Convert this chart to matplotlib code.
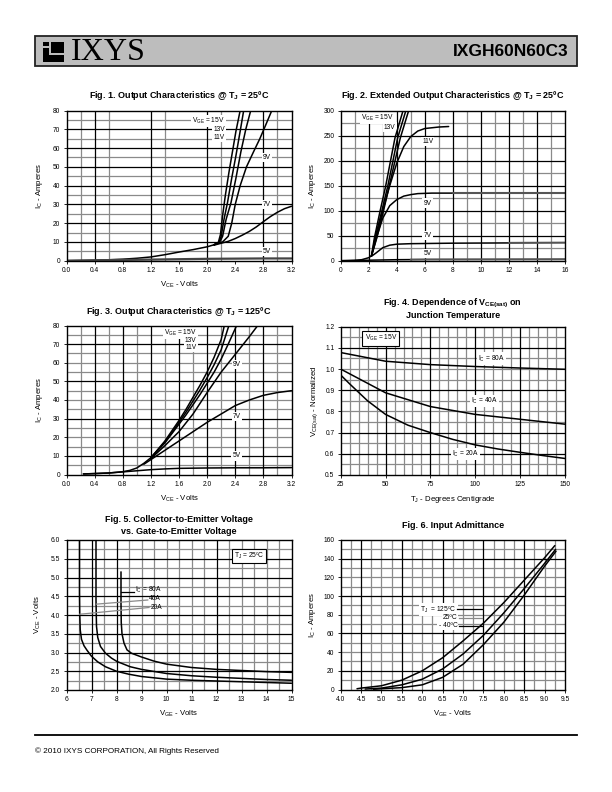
import matplotlib
matplotlib.use('Agg')
import matplotlib.pyplot as plt
from matplotlib.patches import Rectangle
from matplotlib.lines import Line2D

plt.rcParams['font.family'] = ['Liberation Sans', 'DejaVu Sans']
plt.rcParams['mathtext.fontset'] = 'custom'
plt.rcParams['mathtext.rm'] = 'Liberation Sans'
plt.rcParams['mathtext.it'] = 'Liberation Sans:italic'
plt.rcParams['mathtext.bf'] = 'Liberation Sans:bold'

# ---------------- DATA ----------------
# Fig 1: Output characteristics @ Tj = 25C
f1_low_vce = [0.0, 0.2, 0.4, 0.6, 0.8, 1.0, 1.2, 1.4, 1.6, 1.8, 2.0, 2.1]
f1_low_ic = [0.0, 0.1, 0.25, 0.5, 0.8, 1.3, 2.0, 3.2, 4.6, 5.9, 7.4, 8.5]
f1_15v_vce = [2.1, 2.16, 2.19, 2.22, 2.26, 2.31, 2.36, 2.41, 2.47]
f1_15v_ic = [8.5, 9.8, 14, 24, 35, 47, 58, 69, 80]
f1_13v_vce = [2.1, 2.17, 2.2, 2.24, 2.29, 2.35, 2.41, 2.47, 2.52]
f1_13v_ic = [8.5, 9.9, 13, 22, 31, 44, 56, 69, 80]
f1_11v_vce = [2.1, 2.18, 2.22, 2.27, 2.34, 2.41, 2.48, 2.55, 2.62]
f1_11v_ic = [8.5, 10, 13, 22, 31, 44, 58, 70, 80]
f1_9v_vce = [2.1, 2.22, 2.3, 2.35, 2.4, 2.47, 2.56, 2.66, 2.75, 2.83, 2.92]
f1_9v_ic = [8.5, 10, 13, 20, 30, 40, 50, 58, 65, 72, 80]
f1_7v_vce = [2.1, 2.2, 2.3, 2.4, 2.5, 2.6, 2.7, 2.8, 2.9, 3.0, 3.1, 3.2]
f1_7v_ic = [8.3, 9.3, 10.3, 11.8, 13.6, 15.6, 18.0, 20.8, 23.5, 25.8, 27.7, 29.0]
f1_5v_vce = [0.0, 0.4, 0.8, 1.2, 1.6, 2.0, 2.4, 2.8, 3.2]
f1_5v_ic = [0.0, 0.2, 0.4, 0.6, 0.8, 1.0, 1.1, 1.2, 1.2]

# Fig 2: Extended output characteristics @ Tj = 25C
f2_low_vce = [0.0, 0.5, 1.0, 1.5, 2.0, 2.2]
f2_low_ic = [0.0, 0.2, 0.6, 2.0, 6.0, 10.0]
f2_15v_vce = [2.2, 2.4, 2.8, 3.2, 3.87, 4.45]
f2_15v_ic = [10, 45, 98, 148, 245, 300]
f2_13v_vce = [2.2, 2.45, 2.92, 3.35, 4.06, 4.65]
f2_13v_ic = [10, 45, 98, 148, 245, 300]
f2_12v_vce = [2.2, 2.57, 3.04, 3.45, 4.25, 4.85]
f2_12v_ic = [10, 45, 98, 148, 245, 300]
f2_11v_vce = [2.2, 2.6, 3.0, 3.5, 4.0, 4.5, 5.0, 5.5, 6.0, 7.0, 7.7]
f2_11v_ic = [10, 55, 100, 150, 195, 228, 248, 259, 264, 267, 268]
f2_9v_vce = [2.2, 2.6, 3.0, 3.5, 4.0, 4.5, 5.0, 5.5, 6.5, 8.0]
f2_9v_ic = [10, 50, 85, 110, 122, 129, 132, 134, 135, 135]
f2_9v_tail_vce = [8.0, 16.0]
f2_9v_tail_ic = [135, 135]
f2_7v_vce = [2.2, 2.5, 3.0, 3.5, 4.0, 5.0, 8.0, 12.0]
f2_7v_ic = [9, 15, 26, 31, 33, 34, 35, 35.5]
f2_7v_tail_vce = [12.0, 16.0]
f2_7v_tail_ic = [35.5, 36]
f2_5v_vce = [0.0, 2.0, 4.0, 5.0]
f2_5v_ic = [0.0, 1.0, 2.0, 2.2]
f2_5v_tail_vce = [5.0, 6.0, 16.0]
f2_5v_tail_ic = [2.2, 2.5, 3.0]

# Fig 3: Output characteristics @ Tj = 125C
f3_low_vce = [0.24, 0.4, 0.6, 0.8, 0.9, 1.0, 1.1, 1.2]
f3_low_ic = [0.3, 0.5, 0.8, 1.5, 2.2, 3.5, 6.0, 9.0]
f3_15v_vce = [1.2, 1.3, 1.4, 1.5, 1.6, 1.7, 1.8, 1.9, 2.0, 2.1, 2.2, 2.245]
f3_15v_ic = [9.0, 13.5, 18, 23.5, 29, 35, 41.5, 48, 55, 63, 72.5, 80]
f3_13v_vce = [1.2, 1.3, 1.4, 1.5, 1.6, 1.7, 1.8, 1.9, 2.0, 2.1, 2.2, 2.31]
f3_13v_ic = [9.0, 13.2, 17.5, 22.5, 28, 33.5, 39.5, 45.5, 52, 59, 67, 80]
f3_11v_vce = [1.2, 1.3, 1.4, 1.5, 1.6, 1.7, 1.8, 1.9, 2.0, 2.1, 2.2, 2.3, 2.42]
f3_11v_ic = [9.0, 13, 17, 22, 27, 32, 37.5, 43, 49, 55, 62, 70, 80]
f3_9v_vce = [1.2, 1.4, 1.6, 1.8, 2.0, 2.2, 2.4, 2.6, 2.72]
f3_9v_ic = [8.5, 15.5, 23, 32.5, 44, 55, 64.5, 74, 80]
f3_7v_vce = [1.1, 1.2, 1.4, 1.6, 1.8, 2.0, 2.2, 2.4, 2.6, 2.8, 3.0, 3.2]
f3_7v_ic = [5.5, 8.0, 13, 18, 23, 28, 32.5, 37, 40, 42.5, 44, 45]
f3_5v_vce = [0.24, 0.4, 0.6, 0.8, 1.0, 1.2, 1.4, 1.6, 2.0, 2.4, 2.8, 3.2]
f3_5v_ic = [0.3, 0.5, 0.8, 1.4, 2.0, 2.6, 3.0, 3.3, 3.5, 3.6, 3.6, 3.7]

# Fig 4: VCE(sat) normalized vs junction temperature
f4_tj = [25, 50, 75, 100, 125, 150]
f4_80a = [1.078, 1.037, 1.021, 1.012, 1.005, 0.999]
f4_40a = [1.0, 0.888, 0.823, 0.786, 0.763, 0.740]
f4_20a_tj = [25, 30, 40, 50, 62.5, 75, 87.5, 100, 112.5, 125, 137.5, 150]
f4_20a = [0.972, 0.93, 0.85, 0.786, 0.735, 0.70, 0.668, 0.642, 0.623, 0.607, 0.592, 0.578]

# Fig 5: VCE vs VGE
f5_20a_vge = [6.52, 6.52, 6.53, 6.55, 6.6, 6.7, 6.82, 7.0, 7.25, 7.56, 8.0, 8.5, 9.0, 10, 11, 12, 13, 14, 15]
f5_20a_vce = [6.0, 4.6, 4.0, 3.6, 3.35, 3.18, 3.06, 2.9, 2.75, 2.62, 2.5, 2.42, 2.36, 2.29, 2.26, 2.24, 2.22, 2.2, 2.18]
f5_40a_vge = [7.18, 7.18, 7.2, 7.25, 7.36, 7.56, 7.8, 8.02, 8.55, 9.0, 10, 11, 12, 13, 14, 15]
f5_40a_vce = [6.0, 4.4, 3.7, 3.4, 3.16, 2.98, 2.85, 2.76, 2.62, 2.55, 2.44, 2.38, 2.34, 2.31, 2.28, 2.26]
f5_80a_vge = [8.18, 8.18, 8.19, 8.22, 8.3, 8.42, 8.6, 8.8, 9.0, 9.5, 10, 11, 12, 13, 14, 15]
f5_80a_vce = [5.15, 4.3, 3.8, 3.5, 3.25, 3.07, 2.98, 2.93, 2.88, 2.77, 2.69, 2.6, 2.55, 2.52, 2.49, 2.47]

# Fig 6: Input admittance
f6_125_vge = [4.4, 4.5, 5.0, 5.5, 6.0, 6.5, 7.0, 7.5, 8.0, 8.5, 9.0, 9.25]
f6_125_ic = [0.8, 1.5, 4, 10, 20, 34, 52, 71, 93, 117, 141, 154]
f6_25_vge = [4.6, 5.0, 5.5, 6.0, 6.5, 7.0, 7.5, 8.0, 8.5, 9.0, 9.27]
f6_25_ic = [0.5, 1.5, 5, 11, 22, 38, 58, 82, 108, 135, 150]
f6_m40_vge = [4.8, 5.5, 6.0, 6.5, 7.0, 7.5, 8.0, 8.5, 9.0, 9.28]
f6_m40_ic = [0.3, 2, 5, 13, 27, 48, 72, 101, 132, 148]

# ---------------- FIGURE ----------------
W, H = 612, 792
fig = plt.figure(figsize=(W / 100, H / 100), dpi=100)

GRAY = '#8a8a8a'
TICK_FS = 4.8
LAB_FS = 5.6
TITLE_FS = 6.5
TITLE_FAM = ['Liberation Sans Narrow', 'Liberation Sans', 'DejaVu Sans']


def px_box(x0, y0, x1, y1):
    return [x0 / W, 1 - y1 / H, (x1 - x0) / W, (y1 - y0) / H]


def ftext(x, y, s, **kw):
    fig.text(x / W, 1 - y / H, s, **kw)


def title(x, y, s):
    ftext(x, y, s, fontsize=TITLE_FS, fontweight='bold', family=TITLE_FAM,
          ha='center', va='center')


def make_ax(rect, xlim, ylim, xticks, yticks, xfmt, yfmt, vb, vg, hb, hg):
    ax = fig.add_axes(px_box(*rect))
    ax.set_xlim(*xlim)
    ax.set_ylim(*ylim)
    ax.set_xticks(xticks)
    ax.set_yticks(yticks)
    ax.set_xticklabels([xfmt.format(v) for v in xticks])
    ax.set_yticklabels([yfmt.format(v) for v in yticks])
    ax.tick_params(labelsize=TICK_FS, length=2, width=0.6, pad=2.5, direction='out')
    for v in vg:
        ax.axvline(v, color=GRAY, lw=0.9, zorder=0.5)
    for v in hg:
        ax.axhline(v, color=GRAY, lw=0.9, zorder=0.5)
    for v in vb:
        ax.axvline(v, color='black', lw=0.9, zorder=0.6)
    for v in hb:
        ax.axhline(v, color='black', lw=0.9, zorder=0.6)
    for sp in ax.spines.values():
        sp.set_linewidth(1.0)
        sp.set_zorder(6)
    return ax


def curve(ax, x, y, color='black', lw=1.1):
    ax.plot(x, y, color=color, lw=lw, zorder=5, solid_capstyle='round')


def lab(ax, x, y, s, ha='center', fs=4.8, box=True):
    kw = dict(fontsize=fs, ha=ha, va='center', zorder=3)
    if box:
        kw['bbox'] = dict(fc='white', ec='none', pad=0.8)
    ax.text(x, y, s, **kw)


L, R = 66.5, 291.5
L2, R2 = 340.7, 565.0

# ---- Fig 1 ----
ax1 = make_ax((L, 110.5, R, 260.7), (0, 3.2), (0, 80),
              [0.0, 0.4, 0.8, 1.2, 1.6, 2.0, 2.4, 2.8, 3.2], list(range(0, 81, 10)),
              '{:.1f}', '{:d}',
              vb=[0.4, 1.2, 2.0, 2.8], vg=[0.2, 0.6, 1.4, 2.2, 3.0],
              hb=list(range(10, 80, 10)), hg=list(range(5, 80, 10)))
curve(ax1, f1_low_vce, f1_low_ic)
for xs, ys in [(f1_15v_vce, f1_15v_ic), (f1_13v_vce, f1_13v_ic), (f1_11v_vce, f1_11v_ic),
               (f1_9v_vce, f1_9v_ic), (f1_7v_vce, f1_7v_ic)]:
    curve(ax1, xs, ys)
curve(ax1, f1_5v_vce, f1_5v_ic, color='#444444', lw=1.6)
lab(ax1, 2.25, 74.5, r'V$_{\rm GE}$ = 15V', ha='right')
lab(ax1, 2.25, 70, '13V', ha='right')
lab(ax1, 2.25, 65.5, '11V', ha='right')
lab(ax1, 2.85, 55, '9V')
lab(ax1, 2.85, 30, '7V')
lab(ax1, 2.85, 5, '5V')
ax1.set_xlabel(r'V$_{\rm CE}$ - Volts', fontsize=LAB_FS, labelpad=4)
ax1.set_ylabel(r'I$_{\rm C}$ - Amperes', fontsize=LAB_FS, labelpad=6)
title((L + R) / 2, 96, 'Fig. 1. Output Characteristics @ T$_{\\mathbf{J}}$ = 25ºC')

# ---- Fig 2 ----
ax2 = make_ax((L2, 110.5, R2, 260.7), (0, 16), (0, 300),
              list(range(0, 17, 2)), list(range(0, 301, 50)),
              '{:d}', '{:d}',
              vb=[2, 4, 6, 8, 10, 12, 14], vg=[1, 3, 5, 7, 9, 11, 13, 15],
              hb=list(range(50, 300, 50)), hg=list(range(25, 300, 50)))
curve(ax2, f2_low_vce, f2_low_ic)
for xs, ys in [(f2_15v_vce, f2_15v_ic), (f2_13v_vce, f2_13v_ic), (f2_12v_vce, f2_12v_ic),
               (f2_11v_vce, f2_11v_ic), (f2_9v_vce, f2_9v_ic), (f2_7v_vce, f2_7v_ic),
               (f2_5v_vce, f2_5v_ic)]:
    curve(ax2, xs, ys)
for xs, ys in [(f2_9v_tail_vce, f2_9v_tail_ic), (f2_7v_tail_vce, f2_7v_tail_ic),
               (f2_5v_tail_vce, f2_5v_tail_ic)]:
    curve(ax2, xs, ys, color='#555555', lw=1.5)
lab(ax2, 2.6, 285, r'V$_{\rm GE}$ = 15V')
lab(ax2, 3.5, 267, '13V')
lab(ax2, 6.2, 238, '11V')
lab(ax2, 6.2, 115, '9V')
lab(ax2, 6.2, 50, '7V')
lab(ax2, 6.2, 15, '5V')
ax2.set_ylabel(r'I$_{\rm C}$ - Amperes', fontsize=LAB_FS, labelpad=4)
title((L2 + R2) / 2, 96, 'Fig. 2. Extended Output Characteristics @ T$_{\\mathbf{J}}$ = 25ºC')

# ---- Fig 3 ----
ax3 = make_ax((L, 325.5, R, 474.5), (0, 3.2), (0, 80),
              [0.0, 0.4, 0.8, 1.2, 1.6, 2.0, 2.4, 2.8, 3.2], list(range(0, 81, 10)),
              '{:.1f}', '{:d}',
              vb=[0.4, 0.8, 1.2, 1.6, 2.0, 2.4, 2.8], vg=[0.2, 0.6, 1.0, 1.4, 1.8, 2.2, 2.6, 3.0],
              hb=[10, 30, 50, 70], hg=[5, 15, 20, 25, 35, 40, 45, 55, 60, 65, 75])
curve(ax3, f3_low_vce, f3_low_ic)
for xs, ys in [(f3_15v_vce, f3_15v_ic), (f3_13v_vce, f3_13v_ic), (f3_11v_vce, f3_11v_ic),
               (f3_9v_vce, f3_9v_ic), (f3_7v_vce, f3_7v_ic), (f3_5v_vce, f3_5v_ic)]:
    curve(ax3, xs, ys)
lab(ax3, 1.85, 76, r'V$_{\rm GE}$ = 15V', ha='right')
lab(ax3, 1.85, 72, '13V', ha='right')
lab(ax3, 1.85, 68, '11V', ha='right')
lab(ax3, 2.42, 59, '9V')
lab(ax3, 2.42, 31, '7V')
lab(ax3, 2.42, 10, '5V')
ax3.set_xlabel(r'V$_{\rm CE}$ - Volts', fontsize=LAB_FS, labelpad=4)
ax3.set_ylabel(r'I$_{\rm C}$ - Amperes', fontsize=LAB_FS, labelpad=6)
title((L + R) / 2, 312, 'Fig. 3. Output Characteristics @ T$_{\\mathbf{J}}$ = 125ºC')

# ---- Fig 4 ----
ax4 = make_ax((L2, 326.7, R2, 475), (25, 150), (0.5, 1.2),
              [25, 50, 75, 100, 125, 150], [0.5, 0.6, 0.7, 0.8, 0.9, 1.0, 1.1, 1.2],
              '{:d}', '{:.1f}',
              vb=[50, 75, 100, 125], vg=[v for v in range(30, 150, 5) if v % 25],
              hb=[0.6, 0.7, 0.9, 1.1], hg=[0.55, 0.65, 0.75, 0.8, 0.85, 0.95, 1.0, 1.05, 1.15])
curve(ax4, f4_tj, f4_80a)
curve(ax4, f4_tj, f4_40a)
curve(ax4, f4_20a_tj, f4_20a)
lab(ax4, 109, 1.05, r'I$_{\rm C}$ = 80A')
lab(ax4, 105, 0.85, r'I$_{\rm C}$ = 40A')
lab(ax4, 94.5, 0.60, r'I$_{\rm C}$ = 20A')
ax4.text(47.4, 1.145, r'V$_{\rm GE}$ = 15V', fontsize=4.8, ha='center', va='center', zorder=7,
         bbox=dict(fc='white', ec='black', lw=0.8, pad=1.5))
ax4.set_xlabel(r'T$_{\rm J}$ - Degrees Centigrade', fontsize=LAB_FS, labelpad=4)
ax4.set_ylabel(r'V$_{\rm CE(sat)}$ - Normalized', fontsize=LAB_FS, labelpad=4)
title((L2 + R2) / 2, 303, 'Fig. 4. Dependence of V$_{\\mathbf{CE(sat)}}$ on')
title((L2 + R2) / 2, 315, 'Junction Temperature')

# ---- Fig 5 ----
ax5 = make_ax((L, 540, R, 690), (6, 15), (2.0, 6.0),
              list(range(6, 16)), [2.0, 2.5, 3.0, 3.5, 4.0, 4.5, 5.0, 5.5, 6.0],
              '{:d}', '{:.1f}',
              vb=[7, 8, 12], vg=[6.5, 7.5, 8.5, 9, 9.5, 10, 10.5, 11, 11.5, 12.5, 13, 13.5, 14, 14.5],
              hb=[2.5, 3.0, 3.5, 4.0, 4.5, 5.0, 5.5], hg=[2.25, 2.75, 3.25, 3.75, 4.25, 4.75, 5.25, 5.75])
curve(ax5, f5_20a_vge, f5_20a_vce)
curve(ax5, f5_40a_vge, f5_40a_vce)
curve(ax5, f5_80a_vge, f5_80a_vce)
ax5.add_line(Line2D([8.19, 8.7], [4.62, 4.62], color='black', lw=0.9, zorder=5))
ax5.add_line(Line2D([7.2, 9.25], [4.29, 4.40], color=GRAY, lw=0.9, zorder=5))
ax5.add_line(Line2D([6.53, 9.3], [4.02, 4.20], color=GRAY, lw=0.9, zorder=5))
lab(ax5, 8.75, 4.66, r'I$_{\rm C}$ = 80A', ha='left', box=False)
lab(ax5, 9.3, 4.43, '40A', ha='left', box=False)
lab(ax5, 9.35, 4.21, '20A', ha='left', box=False)
ax5.text(13.3, 5.58, r'T$_{\rm J}$ = 25ºC', fontsize=4.8, ha='center', va='center', zorder=7,
         bbox=dict(fc='white', ec='black', lw=0.8, pad=1.5))
ax5.set_xlabel(r'V$_{\rm GE}$ - Volts', fontsize=LAB_FS, labelpad=4)
ax5.set_ylabel(r'V$_{\rm CE}$ - Volts', fontsize=LAB_FS, labelpad=6)
title((L + R) / 2, 519, 'Fig. 5. Collector-to-Emitter Voltage')
title((L + R) / 2, 531, 'vs. Gate-to-Emitter Voltage')

# ---- Fig 6 ----
ax6 = make_ax((L2, 540, R2, 689.5), (4.0, 9.5), (0, 160),
              [4.0, 4.5, 5.0, 5.5, 6.0, 6.5, 7.0, 7.5, 8.0, 8.5, 9.0, 9.5], list(range(0, 161, 20)),
              '{:.1f}', '{:d}',
              vb=[4.5, 5.5, 6.5, 7.5, 8.5], vg=[4.25, 4.75, 5.0, 5.25, 5.75, 6.0, 6.25, 6.75, 7.0, 7.25, 7.75, 8.0, 8.25, 8.75, 9.0, 9.25],
              hb=[20, 60, 100, 140], hg=[10, 30, 40, 50, 70, 80, 90, 110, 120, 130, 150])
curve(ax6, f6_125_vge, f6_125_ic)
curve(ax6, f6_25_vge, f6_25_ic)
curve(ax6, f6_m40_vge, f6_m40_ic)
ax6.add_line(Line2D([6.86, 7.46], [85.7, 85.7], color='black', lw=0.9, zorder=4))
ax6.add_line(Line2D([6.9, 7.46], [76.8, 76.8], color=GRAY, lw=0.9, zorder=4))
ax6.add_line(Line2D([6.9, 7.46], [68.2, 68.2], color='black', lw=0.9, zorder=4))
lab(ax6, 6.84, 85.7, r'T$_{\rm J}$  = 125ºC', ha='right')
lab(ax6, 6.86, 76.8, '25ºC', ha='right')
lab(ax6, 6.86, 68.2, '- 40ºC', ha='right')
ax6.set_xlabel(r'V$_{\rm GE}$ - Volts', fontsize=LAB_FS, labelpad=4)
ax6.set_ylabel(r'I$_{\rm C}$ - Amperes', fontsize=LAB_FS, labelpad=4)
title((L2 + R2) / 2, 526, 'Fig. 6. Input Admittance')

# ---- Header ----
hdr = fig.add_axes([0, 0, 1, 1], zorder=-1)
hdr.set_xlim(0, W)
hdr.set_ylim(H, 0)
hdr.axis('off')
hdr.add_patch(Rectangle((35, 36), 542, 30, fc='#bdbdbd', ec='#222222', lw=1.3))
# logo
hdr.add_patch(Rectangle((43, 42), 21, 20, fc='black', ec='none'))
hdr.add_patch(Rectangle((49, 42), 2.2, 13, fc='#bdbdbd', ec='none'))
hdr.add_patch(Rectangle((49, 53), 15, 2.2, fc='#bdbdbd', ec='none'))
hdr.add_patch(Rectangle((43, 46), 6, 1.6, fc='#bdbdbd', ec='none'))
hdr.text(71, 52.5, 'IXYS', fontsize=23, family=['Liberation Serif', 'DejaVu Serif'],
         ha='left', va='center')
hdr.text(569, 52, 'IXGH60N60C3', fontsize=12.5, fontweight='bold', ha='right', va='center')
# footer
hdr.plot([35, 577], [735, 735], color='black', lw=1.3)
hdr.text(35, 751, '© 2010 IXYS CORPORATION, All Rights Reserved', fontsize=5.9,
         ha='left', va='center')

fig.savefig('out.png', dpi=100)
